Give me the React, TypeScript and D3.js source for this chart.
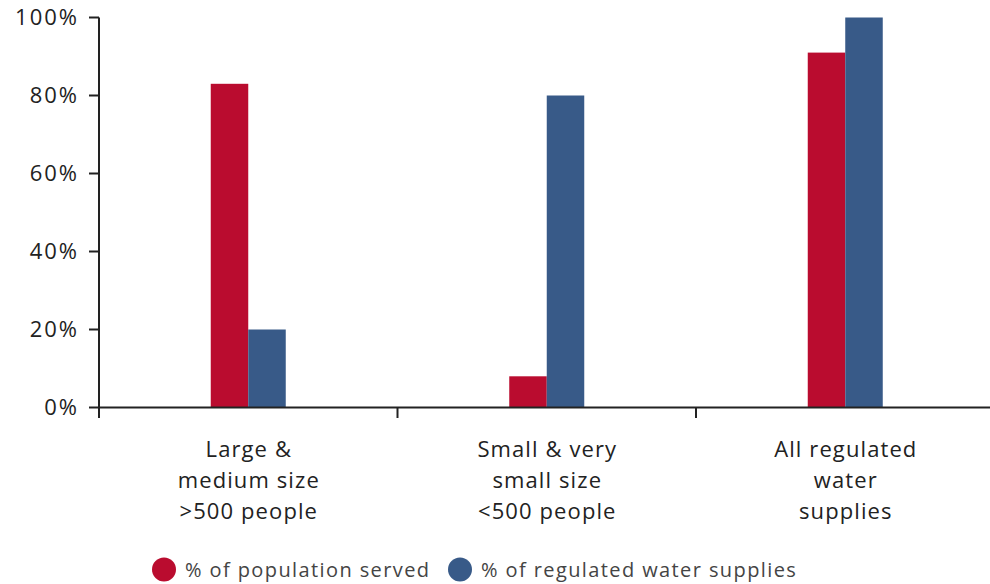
import React from "react";
import * as d3 from "d3";

const categories: string[][] = [
  ["Large &", "medium size", ">500 people"],
  ["Small & very", "small size", "<500 people"],
  ["All regulated", "water", "supplies"],
];
const seriesNames = ["% of population served", "% of regulated water supplies"];
const populationServed = [83, 8, 91];
const regulatedSupplies = [20, 80, 100];
const yTicks = [0, 20, 40, 60, 80, 100];
const colors = ["#BA0C2F", "#385A88"];

const W = 990;
const H = 584;
const FONT = "'Open Sans', Lato, sans-serif";

export default function App() {
  const x0 = 99;
  const x1 = 994.5;
  const yTop = 17.5;
  const yBottom = 407.5;

  const x = d3.scaleBand<number>().domain(d3.range(categories.length)).range([x0, x1]);
  const barW = 37.5;
  const y = d3.scaleLinear().domain([0, 100]).range([yBottom, yTop]);

  const series = [populationServed, regulatedSupplies];
  const axisColor = "#222";
  const tickSpacing = 2;
  const catSpacing = 1.1;

  return (
    <svg
      width={W}
      height={H}
      style={{ position: "fixed", left: 0, top: 0, display: "block", background: "#fff" }}
    >
      {/* bars */}
      {series.map((vals, si) =>
        vals.map((v, ci) => {
          const cx = (x(ci) as number) + x.bandwidth() / 2;
          const left = cx - barW + si * barW;
          return (
            <rect
              key={`${si}-${ci}`}
              x={left}
              y={y(v)}
              width={barW}
              height={y(0) - y(v)}
              fill={colors[si]}
            />
          );
        })
      )}

      {/* y axis */}
      <line x1={x0} x2={x0} y1={yTop} y2={418} stroke={axisColor} strokeWidth={2} />
      {yTicks.map((t) => (
        <g key={t}>
          <line x1={89} x2={x0} y1={y(t)} y2={y(t)} stroke={axisColor} strokeWidth={2} />
          <text
            x={77 + tickSpacing}
            y={y(t)}
            dy="0.36em"
            textAnchor="end"
            fontFamily={FONT}
            fontSize={22}
            letterSpacing={tickSpacing}
            fill="#222"
          >
            {t}%
          </text>
        </g>
      ))}

      {/* x axis */}
      <line x1={x0} x2={W} y1={yBottom} y2={yBottom} stroke={axisColor} strokeWidth={2} />
      {d3.range(1, categories.length).map((i) => (
        <line
          key={i}
          x1={x(i) as number}
          x2={x(i) as number}
          y1={yBottom}
          y2={418}
          stroke={axisColor}
          strokeWidth={2}
        />
      ))}
      {categories.map((lines, ci) => {
        const cx = (x(ci) as number) + x.bandwidth() / 2 + catSpacing / 2;
        return (
          <text
            key={ci}
            x={cx}
            textAnchor="middle"
            fontFamily={FONT}
            fontSize={22}
            letterSpacing={catSpacing}
            fill="#222"
          >
            {lines.map((l, li) => (
              <tspan key={li} x={cx} y={457 + li * 31}>
                {l}
              </tspan>
            ))}
          </text>
        );
      })}

      {/* legend */}
      {seriesNames.map((name, i) => {
        const cx = i === 0 ? 164 : 460;
        return (
          <g key={name}>
            <circle cx={cx} cy={569.5} r={12} fill={colors[i]} />
            <text
              x={cx + 21}
              y={569.5}
              dy="0.35em"
              fontFamily={FONT}
              fontSize={20}
              letterSpacing={1.4}
              fill="#444"
            >
              {name}
            </text>
          </g>
        );
      })}
    </svg>
  );
}
